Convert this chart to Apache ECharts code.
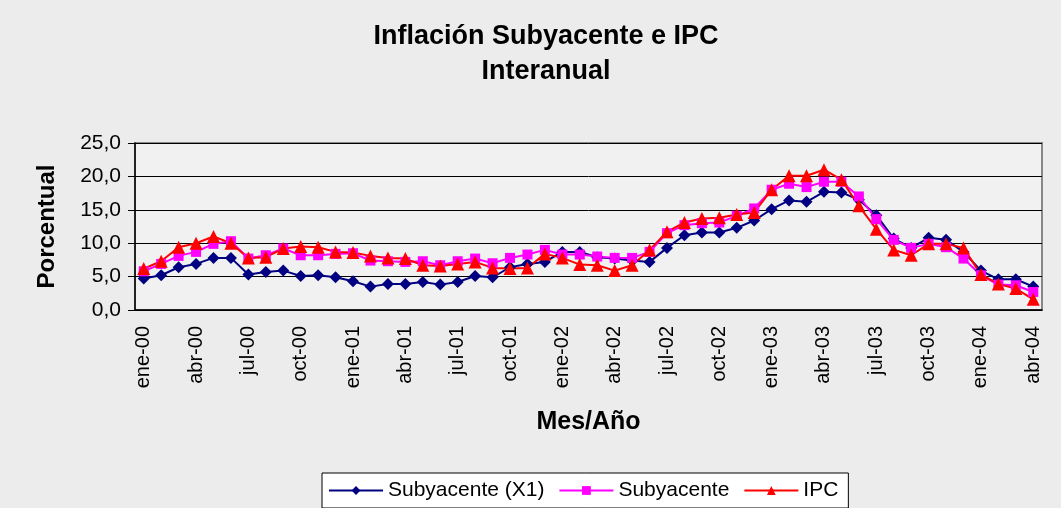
<!DOCTYPE html>
<html>
<head>
<meta charset="utf-8">
<script src="https://cdn.jsdelivr.net/npm/echarts@6/dist/echarts.min.js"></script>
<style>
  html, body { margin: 0; padding: 0; background: #ececec; }
  #chart { width: 1061px; height: 508px; }
</style>
</head>
<body>
<div id="chart"></div>
<script>
// meses ene-00 .. abr-04
const years = ["00", "01", "02", "03", "04"];
const monthNames = ["ene", "feb", "mar", "abr", "may", "jun", "jul", "ago", "sep", "oct", "nov", "dic"];
const categories = [];
years.forEach((y) => {
  monthNames.forEach((m) => categories.push(m + "-" + y));
});
categories.length = 52;

const subyacenteX1 = [
  4.7, 5.2, 6.4, 6.9, 7.8, 7.8, 5.3, 5.7, 5.9, 5.1, 5.2, 4.9,
  4.3, 3.5, 3.9, 3.9, 4.2, 3.8, 4.2, 5.1, 4.9, 6.4, 6.9, 7.2,
  8.7, 8.7, 7.9, 7.7, 7.4, 7.2, 9.3, 11.2, 11.6, 11.6, 12.3, 13.4,
  15.1, 16.4, 16.2, 17.7, 17.6, 16.5, 14.2, 10.7, 9.3, 10.8, 10.5, 8.7,
  5.9, 4.6, 4.6, 3.5
];
const subyacente = [
  5.8, 6.9, 8.1, 8.7, 9.9, 10.3, 7.7, 8.2, 9.2, 8.2, 8.2, 8.4,
  8.5, 7.4, 7.3, 7.2, 7.3, 6.7, 7.3, 7.7, 7.0, 7.8, 8.3, 9.0,
  8.3, 8.3, 8.0, 7.8, 7.8, 8.7, 11.5, 12.7, 13.0, 13.1, 14.1, 15.2,
  18.0, 18.9, 18.4, 19.2, 19.2, 17.0, 13.6, 10.5, 9.3, 9.9, 9.4, 7.7,
  5.2, 3.8, 3.7, 2.7
];
const ipc = [
  6.2, 7.3, 9.4, 10.0, 11.0, 10.0, 7.8, 7.9, 9.2, 9.5, 9.4, 8.7,
  8.6, 8.1, 7.8, 7.7, 6.7, 6.6, 6.9, 7.2, 6.3, 6.2, 6.3, 8.4,
  7.8, 6.8, 6.7, 5.9, 6.7, 9.0, 11.7, 13.1, 13.7, 13.8, 14.3, 14.6,
  18.0, 20.1, 20.1, 21.0, 19.5, 15.6, 12.1, 9.0, 8.2, 9.9, 9.9, 9.3,
  5.3, 3.9, 3.2, 1.6
];

const font = "'Liberation Sans', Arial, sans-serif";
const chart = echarts.init(document.getElementById("chart"));

chart.setOption({
  backgroundColor: "#ececec",
  animation: false,
  title: {
    text: "Inflación Subyacente e IPC\nInteranual",
    left: 541,
    textAlign: "center",
    top: 14,
    textStyle: { fontFamily: font, fontSize: 27, fontWeight: "bold", color: "#000", lineHeight: 35 },
  },
  grid: { left: 135, right: 19, top: 143, bottom: 198, backgroundColor: "#f1f1f1", show: true, borderColor: "#888", borderWidth: 2 },
  legend: {
    bottom: 0,
    left: 322,
    padding: [7, 10, 7, 6],
    itemGap: 14,
    itemWidth: 54,
    itemHeight: 11,
    borderColor: "#000",
    borderWidth: 1,
    backgroundColor: "#ffffff",
    textStyle: { fontFamily: font, fontSize: 21, color: "#000" },
    data: ["Subyacente (X1)", "Subyacente", "IPC"],
  },
  xAxis: {
    type: "category",
    data: categories,
    boundaryGap: true,
    name: "Mes/Año",
    nameLocation: "middle",
    nameGap: 100,
    nameTextStyle: { fontFamily: font, fontSize: 25, fontWeight: "bold", color: "#000" },
    axisLine: { lineStyle: { color: "#000", width: 1.5 } },
    axisTick: { interval: 2, length: 6, lineStyle: { color: "#000" } },
    axisLabel: { interval: 2, rotate: 90, fontFamily: font, fontSize: 20, color: "#000", margin: 16 },
    splitLine: { show: false },
  },
  yAxis: {
    type: "value",
    min: 0,
    max: 25,
    interval: 5,
    name: "Porcentual",
    nameLocation: "middle",
    nameGap: 76,
    nameTextStyle: { fontFamily: font, fontSize: 24, fontWeight: "bold", color: "#000" },
    axisLine: { show: true, lineStyle: { color: "#000", width: 1.5 } },
    axisTick: { show: true, length: 7, lineStyle: { color: "#000" } },
    axisLabel: {
      fontFamily: font,
      fontSize: 21,
      color: "#000",
      margin: 14,
      formatter: (v) => v.toFixed(1).replace(".", ","),
    },
    splitLine: { lineStyle: { color: "#000", width: 1 } },
  },
  series: [
    {
      name: "Subyacente (X1)",
      type: "line",
      data: subyacenteX1,
      symbol: "diamond",
      symbolSize: 12,
      showAllSymbol: true,
      itemStyle: { color: "#000080" },
      lineStyle: { color: "#000080", width: 2 },
    },
    {
      name: "Subyacente",
      type: "line",
      data: subyacente,
      symbol: "rect",
      symbolSize: 10,
      showAllSymbol: true,
      itemStyle: { color: "#ff00ff" },
      lineStyle: { color: "#ff00ff", width: 2 },
    },
    {
      name: "IPC",
      type: "line",
      data: ipc,
      symbol: "triangle",
      symbolSize: 13,
      showAllSymbol: true,
      itemStyle: { color: "#ff0000" },
      lineStyle: { color: "#ff0000", width: 2 },
    },
  ],
});
</script>
</body>
</html>
